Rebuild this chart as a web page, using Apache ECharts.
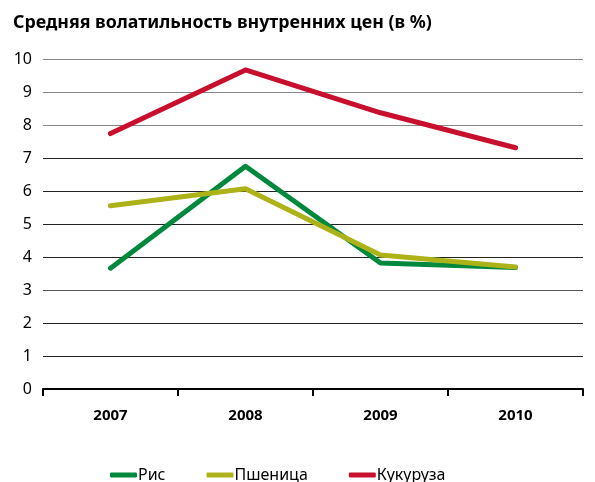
<!DOCTYPE html>
<html lang="ru">
<head>
  <meta charset="UTF-8" />
  <title>Средняя волатильность внутренних цен</title>
  <script src="https://cdn.jsdelivr.net/npm/echarts@6/dist/echarts.min.js"></script>
  <style>
    body { margin: 0; background: #fff; }
    #chart { width: 595px; height: 482px; }
  </style>
</head>
<body>
  <div id="chart"></div>
  <script>
    // данные
    const years = ['2007', '2008', '2009', '2010'];
    const rice = [3.66, 6.75, 3.82, 3.68];
    const wheat = [5.55, 6.07, 4.06, 3.70];
    const maize = [7.74, 9.67, 8.37, 7.31];

    const chart = echarts.init(document.getElementById('chart'));
    const font = '"Noto Sans", sans-serif';

    // цвета линий сетки снизу вверх (0..10)
    const gridColors = ['#222', '#222', '#222', '#555', '#222', '#222', '#222', '#222', '#888', '#888', '#888'];

    function line(name, data, color) {
      return {
        name: name,
        type: 'line',
        data: data,
        symbol: 'none',
        lineStyle: { color: color, width: 5, cap: 'round', join: 'round' },
        itemStyle: { color: color }
      };
    }

    chart.setOption({
      animation: false,
      title: {
        text: 'Средняя волатильность внутренних цен (в %)',
        left: 8,
        top: 9,
        textStyle: { fontFamily: font, fontSize: 17.8, fontWeight: 'bold', color: '#000' }
      },
      legend: {
        left: 105,
        top: 462,
        itemGap: 41,
        itemWidth: 27,
        itemHeight: 5,
        icon: 'roundRect',
        textStyle: { fontFamily: font, fontSize: 16, color: '#000', padding: [0, 0, 0, -4] },
        data: ['Рис', 'Пшеница', 'Кукуруза']
      },
      grid: { left: 43, right: 12, top: 59, bottom: 93 },
      xAxis: {
        type: 'category',
        data: years,
        boundaryGap: true,
        axisLine: { lineStyle: { color: '#000', width: 2 } },
        axisTick: { show: true, inside: false, length: 7, lineStyle: { color: '#000', width: 2 } },
        axisLabel: { fontFamily: font, fontSize: 15, fontWeight: 'bold', color: '#000', margin: 19 }
      },
      yAxis: {
        type: 'value',
        min: 0,
        max: 10,
        interval: 1,
        axisLine: { show: false },
        axisTick: { show: false },
        axisLabel: { fontFamily: font, fontSize: 16, color: '#000', margin: 11 },
        splitLine: { lineStyle: { color: gridColors, width: 1 } }
      },
      series: [
        line('Рис', rice, '#00893d'),
        line('Пшеница', wheat, '#adb219'),
        line('Кукуруза', maize, '#c8102e')
      ]
    });
  </script>
</body>
</html>
